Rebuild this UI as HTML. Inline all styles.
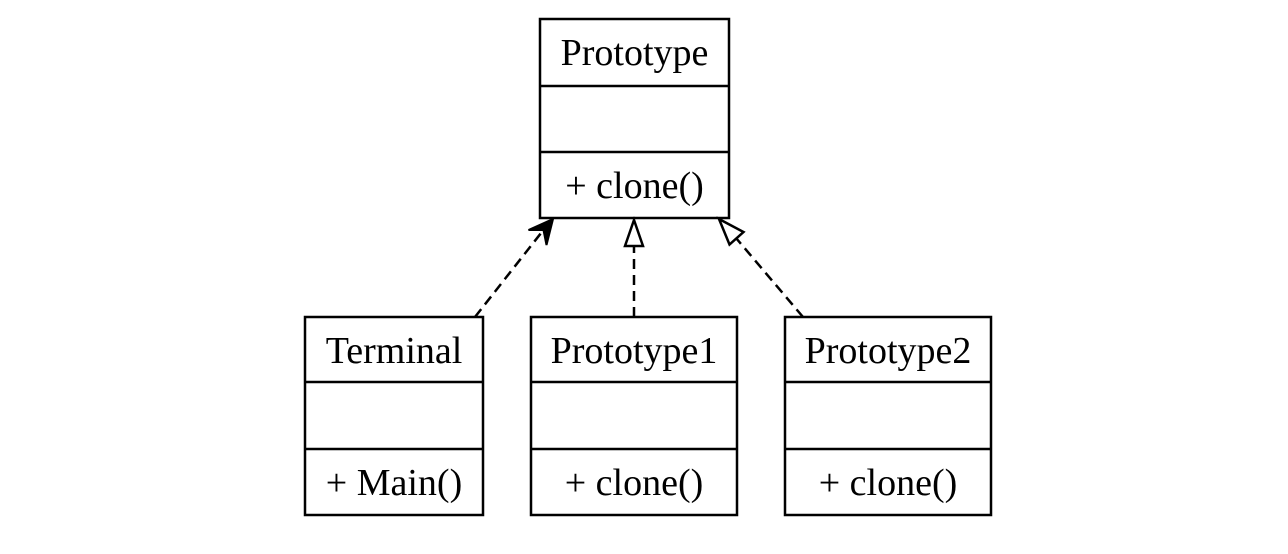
<!DOCTYPE html>
<html><head><style>
html,body{margin:0;padding:0;background:#fff;}
svg{display:block;}
text{font-family:"Liberation Serif",serif;font-size:38px;fill:#000;}
</style></head><body>
<svg width="1288" height="554" viewBox="0 0 1288 554">
<g fill="none" stroke="#000" stroke-width="2.5">
<rect x="540" y="19" width="189" height="199"/>
<line x1="540" y1="86" x2="729" y2="86"/>
<line x1="540" y1="152" x2="729" y2="152"/>
<rect x="305" y="317" width="178" height="198"/>
<line x1="305" y1="382" x2="483" y2="382"/>
<line x1="305" y1="449" x2="483" y2="449"/>
<rect x="531" y="317" width="206" height="198"/>
<line x1="531" y1="382" x2="737" y2="382"/>
<line x1="531" y1="449" x2="737" y2="449"/>
<rect x="785" y="317" width="206" height="198"/>
<line x1="785" y1="382" x2="991" y2="382"/>
<line x1="785" y1="449" x2="991" y2="449"/>
<g stroke-dasharray="10,6">
<line x1="475" y1="317" x2="545" y2="228"/>
<line x1="634" y1="317" x2="634" y2="246"/>
<line x1="803" y1="317" x2="736" y2="238"/>
</g>
<polygon points="634,220 625,246 643,246" fill="#fff"/>
<polygon points="719,219 743.5,232 729.5,244.5" fill="#fff"/>
</g>
<polygon points="553,219 546.5,245 543.5,230 528.5,230" fill="#000" stroke="#000" stroke-width="2" stroke-linejoin="miter"/>
<g text-anchor="middle">
<text x="634.5" y="65">Prototype</text>
<text x="634.5" y="198">+ clone()</text>
<text x="394" y="363">Terminal</text>
<text x="394" y="495">+ Main()</text>
<text x="634" y="363">Prototype1</text>
<text x="634" y="495">+ clone()</text>
<text x="888" y="363">Prototype2</text>
<text x="888" y="495">+ clone()</text>
</g>
</svg>
</body></html>
